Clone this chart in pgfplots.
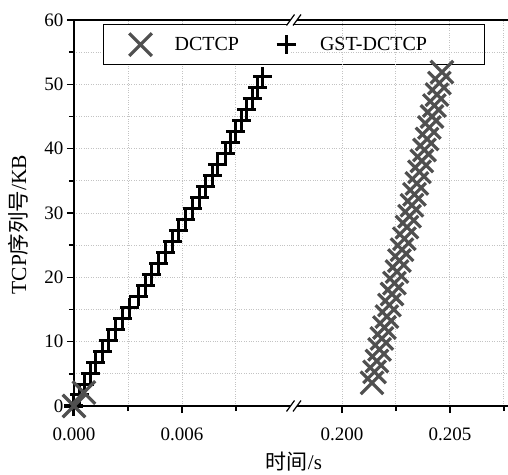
\documentclass[border=0pt]{standalone}
\usepackage{pgfplots}
\pgfplotsset{compat=1.18}
\usepackage{fontspec}
\setmainfont{Liberation Serif}
\newfontfamily\cjk{Noto Sans CJK SC}
\definecolor{dgray}{RGB}{80,80,80}
\definecolor{gridc}{RGB}{195,195,195}

\pgfplotsset{
  brk/.style={
    scale only axis, height=386bp, width=217bp, ymin=0, ymax=60,
    font=\fontsize{19bp}{23bp}\selectfont,
    ytick={0,10,...,60}, minor ytick={5,15,...,55},
    grid=both, grid style={gridc, dotted, line width=0.9bp},
    axis line style={draw=none},
    tick align=outside, xtick pos=bottom, ytick pos=left,
    major tick length=7bp, minor tick length=5bp,
    tick style={black, line width=1.5bp},
    /pgf/number format/assume math mode=true,
    scaled x ticks=false,
    x tick label style={/pgf/number format/.cd, fixed, fixed zerofill, precision=3, /tikz/.cd},
    x tick label style={yshift=-11bp},
    clip=false,
  },
  dc/.style={only marks, mark=x, mark size=16bp, draw=dgray, line width=3.2bp},
  gs/.style={only marks, mark=+, mark size=9.5bp, draw=black, line width=3bp},
}

\begin{document}
\begin{tikzpicture}
\begin{axis}[brk, name=L,
  xmin=0, xmax=0.01206,
  xtick={0,0.006}, minor xtick={0.003,0.009},
  ylabel={TCP{\cjk 序列号}/KB},
  ylabel style={at={(axis description cs:-0.258,0.47)}, anchor=center, font=\fontsize{21.5bp}{25bp}\selectfont},
  legend columns=2,
  legend image code/.code={\draw[#1] plot coordinates {(26bp,0bp)}; \path[draw=none,fill=none] (0bp,-14bp) rectangle (58bp,14bp);},
  legend style={at={(axis description cs:0.1336,0.9896)}, anchor=north west,
    draw=black, line width=1.2bp, fill=white, inner xsep=11bp, inner ysep=6bp,
    font=\fontsize{20bp}{24bp}\selectfont,
    /tikz/every even column/.append style={column sep=19bp}},
]
\addplot[gs, forget plot] coordinates {
(0,0) (0.0003,1.71) (0.0006,3.41) (0.0009,5.12) (0.0012,6.83) (0.0016,8.53)
(0.0019,10.24) (0.0023,11.95) (0.0027,13.65) (0.0031,15.36) (0.0036,17.07)
(0.0040,18.77) (0.0043,20.48) (0.0047,22.19) (0.0051,23.89) (0.0055,25.60)
(0.0058,27.31) (0.0062,29.01) (0.0066,30.72) (0.0070,32.43) (0.0073,34.13)
(0.0077,35.84) (0.0080,37.55) (0.0084,39.25) (0.0087,40.96) (0.0090,42.67)
(0.0093,44.37) (0.0096,46.08) (0.0099,47.79) (0.0102,49.49) (0.0105,51.20)
};
\addplot[dc, forget plot] coordinates {(0,0) (0.00055,2.1)};
\addlegendimage{mark=x, mark size=16bp, draw=dgray, line width=3.2bp}
\addlegendentry{DCTCP}
\addlegendimage{mark=+, mark size=9.5bp, draw=black, line width=3bp}
\addlegendentry{GST-DCTCP\hspace*{44bp}}
\draw[line width=1.8bp] (rel axis cs:0,1) -- (rel axis cs:0,0) -- (rel axis cs:1,0);
\draw[line width=1.8bp] (rel axis cs:0,1) -- (rel axis cs:1,1);
\end{axis}

\begin{axis}[brk, at={(217bp,0bp)}, anchor=south west,
  xmin=0.19764, xmax=0.20769,
  xtick={0.200,0.205}, minor xtick={0.2025,0.2075},
  yticklabels={}, ytick style={draw=none},
]
\addplot[dc] coordinates {
(0.20139,3.6) (0.20151,5.3) (0.20162,7.0) (0.20174,8.8) (0.20185,10.5)
(0.20197,12.2) (0.20208,13.9) (0.20220,15.7) (0.20232,17.4) (0.20243,19.1)
(0.20255,20.9) (0.20266,22.6) (0.20278,24.3) (0.20289,26.0) (0.20301,27.8)
(0.20313,29.5) (0.20324,31.2) (0.20336,32.9) (0.20347,34.6) (0.20359,36.4)
(0.20370,38.1) (0.20382,39.8) (0.20394,41.5) (0.20405,43.3) (0.20417,45.0)
(0.20428,46.7) (0.20440,48.4) (0.20451,50.2) (0.20463,51.9)
};
\draw[line width=1.8bp] (rel axis cs:0,0) -- (rel axis cs:1,0);
\draw[line width=1.8bp] (rel axis cs:0,1) -- (rel axis cs:1,1);
\end{axis}

% axis break marks
\foreach \yy in {0,386}{
  \fill[white] (212.5bp,\yy bp-5.5bp) -- (219bp,\yy bp-5.5bp) -- (227bp,\yy bp+5.5bp) -- (220.5bp,\yy bp+5.5bp) -- cycle;
  \draw[line width=1.2bp] (212.5bp,\yy bp-5.5bp) -- (220.5bp,\yy bp+5.5bp);
  \draw[line width=1.2bp] (219bp,\yy bp-5.5bp) -- (227bp,\yy bp+5.5bp);
}
\node[font=\fontsize{21bp}{25bp}\selectfont, inner sep=1bp] at (220bp,-56bp) {{\cjk 时间}/s};
\pgfresetboundingbox
\useasboundingbox (-74bp,-69bp) rectangle (434bp,406bp);
\end{tikzpicture}
\end{document}
